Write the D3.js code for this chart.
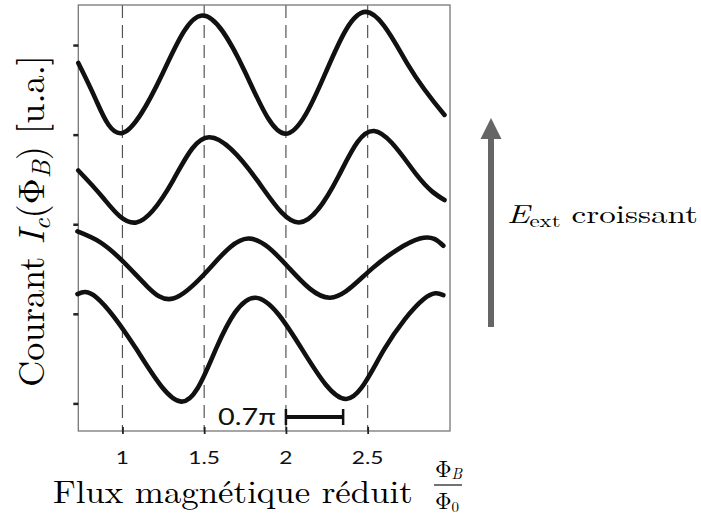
<!DOCTYPE html>
<html><head><meta charset="utf-8">
<script src="https://cdn.jsdelivr.net/npm/d3@7"></script>
<style>body{margin:0;background:#fff}svg{display:block}</style>
</head><body>
<svg id="c" width="701" height="520"></svg>
<script>
// ---- data (x: reduced flux Φ_B/Φ_0, y: current, arbitrary units) ----
const curve1 = [[0.73,3.80],[0.84,3.38],[1.003,3.02],[1.245,3.68],[1.487,4.33],[1.75,3.70],[1.997,3.01],[2.245,3.70],[2.49,4.37],[2.75,3.77],[2.97,3.22]];
const curve2 = [[0.73,2.60],[0.884,2.29],[1.085,2.02],[1.31,2.49],[1.53,2.97],[1.82,2.50],[2.08,2.02],[2.32,2.53],[2.54,3.04],[2.80,2.55],[2.97,2.27]];
const curve3 = [[0.725,1.92],[0.863,1.80],[1.006,1.58],[1.149,1.31],[1.31,1.17],[1.53,1.50],[1.77,1.84],[2.02,1.51],[2.27,1.18],[2.53,1.51],[2.82,1.84],[2.963,1.76]];
const curve4 = [[0.725,1.22],[0.843,1.18],[1.08,0.62],[1.36,0.02],[1.575,0.62],[1.815,1.18],[2.10,0.60],[2.37,0.05],[2.60,0.60],[2.84,1.16],[2.963,1.21]];
const curves = [curve1, curve2, curve3, curve4];
const xTicks = [1, 1.5, 2, 2.5];
const xTickLabels = ["1", "1.5", "2", "2.5"];
const yTicks = [0, 1, 2, 3, 4];
const dashLines = [1, 1.5, 2, 2.5];
const scaleBar = [2.0, 2.35];
const scaleBarLabel = "0.7π";

// ---- layout ----
const L = 78.3, R = 450, T = 5, B = 431;
const svg = d3.select("#c");
const x = d3.scaleLinear().domain([0.73, 3.0]).range([L, 449.4]);
const y = d3.scaleLinear().domain([-0.308, 4.447]).range([B, T]);

// dashed vertical lines
svg.append("g").selectAll("line").data(dashLines).join("line")
  .attr("x1", d => x(d)).attr("x2", d => x(d)).attr("y1", T).attr("y2", B)
  .attr("stroke", "#555").attr("stroke-width", 1.2).attr("stroke-dasharray", "13,7");

// frame
svg.append("rect").attr("x", L).attr("y", T).attr("width", R - L).attr("height", B - T)
  .attr("fill", "none").attr("stroke", "#777").attr("stroke-width", 1.3);

// y ticks (no labels)
const yAxis = svg.append("g").attr("transform", `translate(${L},0)`)
  .call(d3.axisLeft(y).tickValues(yTicks).tickSize(5).tickFormat(""));
yAxis.select(".domain").remove();
yAxis.selectAll(".tick line").attr("stroke", "#222").attr("stroke-width", 2.5);

// x ticks crossing bottom axis
const xAxis = svg.append("g").attr("transform", `translate(0,${B + 3})`)
  .call(d3.axisBottom(x).tickValues(xTicks).tickSizeInner(-7).tickSizeOuter(0).tickFormat(""));
xAxis.select(".domain").remove();
xAxis.selectAll(".tick line").attr("stroke", "#222").attr("stroke-width", 1.8);

// x tick labels (stretched sans)
svg.append("g").selectAll("text").data(xTicks).join("text")
  .attr("transform", d => `translate(${x(d)},464) scale(1.3,1)`)
  .attr("text-anchor", "middle").attr("font-family", "Lato, 'Open Sans', sans-serif")
  .attr("font-size", 17.5).attr("fill", "#111")
  .text((d, i) => xTickLabels[i]);

// curves
const line = d3.line().x(d => x(d[0])).y(d => y(d[1])).curve(d3.curveNatural);
svg.append("g").selectAll("path").data(curves).join("path")
  .attr("d", line).attr("fill", "none").attr("stroke", "#111")
  .attr("stroke-width", 4.6).attr("stroke-linecap", "round").attr("stroke-linejoin", "round");

// scale bar 0.7π
const by = 417;
svg.append("line").attr("x1", x(scaleBar[0])).attr("x2", x(scaleBar[1])).attr("y1", by).attr("y2", by)
  .attr("stroke", "#111").attr("stroke-width", 4);
svg.selectAll(".cap").data(scaleBar).join("line").attr("class", "cap")
  .attr("x1", d => x(d)).attr("x2", d => x(d)).attr("y1", by - 8).attr("y2", by + 8)
  .attr("stroke", "#111").attr("stroke-width", 2.5);
const sbl = svg.append("text").attr("font-family", "Lato, 'Open Sans', sans-serif")
  .attr("font-size", 23.5).attr("fill", "#111").text(scaleBarLabel);
{ const w = sbl.node().getComputedTextLength();
  sbl.attr("transform", `translate(218,425) scale(${58 / w},1)`); }

const serif = "'Latin Modern Roman','CMU Serif','Liberation Serif','Times New Roman',serif";

// x title
const xt = svg.append("text").attr("font-family", serif).attr("font-size", 32).attr("fill", "#000")
  .text("Flux magnétique réduit");
{ const w = xt.node().getComputedTextLength();
  xt.attr("transform", `translate(53,503) scale(${360 / w},1)`); }
// fraction Φ_B / Φ_0
const fx = 434, fw = 28;
const num = svg.append("text").attr("font-family", serif).attr("fill", "#000")
  .attr("x", fx + 1).attr("y", 477);
num.append("tspan").attr("font-size", 23).text("Φ");
num.append("tspan").attr("font-size", 15).attr("font-style", "italic").attr("dy", 2).text("B");
svg.append("line").attr("x1", fx).attr("x2", fx + fw).attr("y1", 485).attr("y2", 485)
  .attr("stroke", "#000").attr("stroke-width", 1.1);
const den = svg.append("text").attr("font-family", serif).attr("fill", "#000")
  .attr("x", fx + 1).attr("y", 509);
den.append("tspan").attr("font-size", 23).text("Φ");
den.append("tspan").attr("font-size", 15).attr("dy", 3).text("0");

// y title (rotated)
const yt = svg.append("text").attr("font-family", serif).attr("font-size", 37).attr("fill", "#000");
yt.append("tspan").text("Courant ");
yt.append("tspan").attr("font-style", "italic").text("I");
yt.append("tspan").attr("font-style", "italic").attr("font-size", 26).attr("dy", 6).text("c");
yt.append("tspan").attr("dy", -6).text("(Φ");
yt.append("tspan").attr("font-style", "italic").attr("font-size", 26).attr("dy", 6).text("B");
yt.append("tspan").attr("dy", -6).text(") [u.a.]");
{ const w = yt.node().getComputedTextLength();
  yt.attr("transform", `translate(44,387) rotate(-90) scale(${332 / w},1)`); }

// arrow
svg.append("line").attr("x1", 491).attr("x2", 491).attr("y1", 327).attr("y2", 136)
  .attr("stroke", "#666").attr("stroke-width", 6);
svg.append("path").attr("d", "M491,118 L480.5,139 L501.5,139 Z").attr("fill", "#666");

// E_ext croissant
const et = svg.append("text").attr("font-family", serif).attr("font-size", 26).attr("fill", "#000");
et.append("tspan").attr("font-style", "italic").text("E");
et.append("tspan").attr("font-size", 18).attr("dy", 4).text("ext");
et.append("tspan").attr("dy", -4).text(" croissant");
{ const w = et.node().getComputedTextLength();
  et.attr("transform", `translate(507,223) scale(${191 / w},1)`); }
</script>
</body></html>
